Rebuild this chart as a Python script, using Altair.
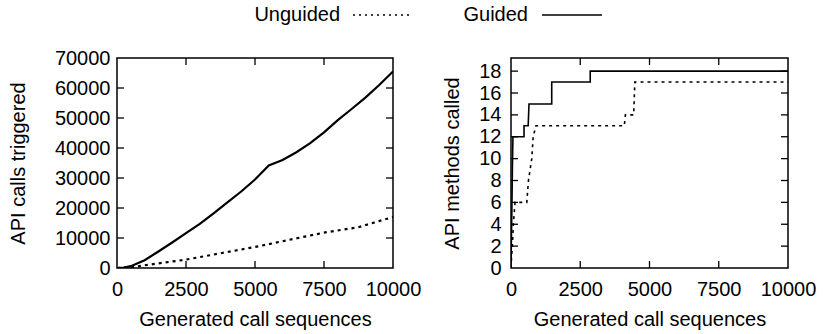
import altair as alt
import pandas as pd

FONT = "Liberation Sans"

# ---- left panel data: API calls triggered ----
guided_seq = [0, 250, 500, 1000, 1500, 2000, 2500, 3000, 3500, 4000, 4500, 5000,
              5500, 6000, 6500, 7000, 7500, 8000, 8500, 9000, 9500, 10000]
guided_calls = [0, 150, 600, 2600, 5500, 8500, 11600, 14700, 18200, 21900, 25500, 29500,
                34200, 36000, 38600, 41600, 45200, 49300, 53000, 56800, 61000, 65500]
unguided_seq = [0, 500, 1000, 2500, 5000, 7500, 8750, 10000]
unguided_calls = [0, 200, 900, 2800, 7000, 11800, 13600, 17000]

# ---- right panel data: API methods called ----
guided_m_seq = [0, 10, 30, 50, 70, 470, 470, 620, 650, 1470, 1470, 2860, 2860, 10000]
guided_methods = [0, 2, 5, 9, 12, 12, 13, 13, 15, 15, 17, 17, 18, 18]
unguided_m_seq = [0, 20, 50, 85, 145, 570, 630, 750, 800, 900, 4090, 4130, 4430, 4470, 10000]
unguided_methods = [0, 1, 2, 4, 6, 6, 8, 10, 12, 13, 13, 14, 14, 17, 17]

x_ticks = [0, 2500, 5000, 7500, 10000]
x_inner = [2500, 5000, 7500]
left_y_ticks = [0, 10000, 20000, 30000, 40000, 50000, 60000, 70000]
left_y_inner = [10000, 20000, 30000, 40000, 50000, 60000]
right_y_ticks = [0, 2, 4, 6, 8, 10, 12, 14, 16, 18]
right_y_inner = [2, 4, 6, 8, 10, 12, 14, 16, 18]

TICK = 7  # inward tick length in pixels
X_MAX = 10000


def panel(gx, gy, ux, uy, ydomain, yticks, yinner, ytitle, w, h, lw, ylabpad, ytitlepad):
    X = alt.X("x:Q", scale=alt.Scale(domain=[0, X_MAX], nice=False, zero=False),
              axis=alt.Axis(values=x_ticks, title="Generated call sequences",
                            labelPadding=11, titlePadding=10, format="d",
                            labelFlush=False, labelOverlap=False, labelBound=False))
    Y = alt.Y("y:Q", scale=alt.Scale(domain=ydomain, nice=False, zero=False),
              axis=alt.Axis(values=yticks, title=ytitle, labelPadding=ylabpad,
                            titlePadding=ytitlepad, format="d",
                            labelFlush=False, labelOverlap=False, labelBound=False))
    g = pd.DataFrame({"x": gx, "y": gy, "i": range(len(gx))})
    u = pd.DataFrame({"x": ux, "y": uy, "i": range(len(ux))})
    guided = alt.Chart(g).mark_line(color="black", strokeWidth=lw, clip=True).encode(
        x=X, y=Y, order="i:Q")
    unguided = alt.Chart(u).mark_line(color="black", strokeWidth=lw, strokeDash=[3, 4],
                                      clip=True).encode(x=X, y=Y, order="i:Q")

    # inward (mirrored) ticks, gnuplot style, drawn as rules through the scales
    y0, y1 = ydomain
    dy = (y1 - y0) * TICK / h
    dx = X_MAX * TICK / w
    xt = pd.DataFrame({
        "x": x_inner * 2,
        "y": [y0] * len(x_inner) + [y1] * len(x_inner),
        "y2": [y0 + dy] * len(x_inner) + [y1 - dy] * len(x_inner),
    })
    yt = pd.DataFrame({
        "y": yinner * 2,
        "x": [0] * len(yinner) + [X_MAX] * len(yinner),
        "x2": [dx] * len(yinner) + [X_MAX - dx] * len(yinner),
    })
    xticks_l = alt.Chart(xt).mark_rule(color="black", strokeWidth=1.3).encode(
        x=X, y=Y, y2="y2:Q")
    yticks_l = alt.Chart(yt).mark_rule(color="black", strokeWidth=1.3).encode(
        y=Y, x=X, x2="x2:Q")
    return alt.layer(guided, unguided, xticks_l, yticks_l).properties(width=w, height=h)


left = panel(guided_seq, guided_calls, unguided_seq, unguided_calls, [0, 70000],
             left_y_ticks, left_y_inner, "API calls triggered", 276, 210, 2.2, 7, 26)
right = panel(guided_m_seq, guided_methods, unguided_m_seq, unguided_methods, [0, 19.2],
              right_y_ticks, right_y_inner, "API methods called", 277, 210, 1.6, 10, 16)

# ---- gnuplot-style key (label, then line sample); x measured from left frame ----
one = pd.DataFrame({"k": [0]})
txt = dict(font=FONT, fontSize=20, color="black", baseline="middle", align="right")
key = alt.layer(
    alt.Chart(one).mark_text(text="Unguided", **txt).encode(x=alt.value(223), y=alt.value(15)),
    alt.Chart(one).mark_rule(color="black", strokeWidth=1.6, strokeDash=[2, 4]).encode(
        x=alt.value(236), x2=alt.value(293), y=alt.value(15)),
    alt.Chart(one).mark_text(text="Guided", **txt).encode(x=alt.value(411), y=alt.value(15)),
    alt.Chart(one).mark_rule(color="black", strokeWidth=1.6).encode(
        x=alt.value(425), x2=alt.value(485), y=alt.value(15)),
).properties(width=600, height=30, view=alt.ViewBackground(stroke=None))

chart = alt.vconcat(
    key,
    alt.hconcat(left, right, spacing=20),
    spacing=17,
).properties(
    padding={"left": 7, "top": 0, "right": 0, "bottom": 0},
    background="white",
).configure_view(
    stroke="black", strokeWidth=1.5
).configure_axis(
    labelFont=FONT, titleFont=FONT, labelFontSize=20, titleFontSize=20,
    titleFontWeight="normal", labelColor="black", titleColor="black",
    ticks=False, domain=False, grid=False,
)

chart.save("out.html", embed_options={"renderer": "svg", "actions": False})
